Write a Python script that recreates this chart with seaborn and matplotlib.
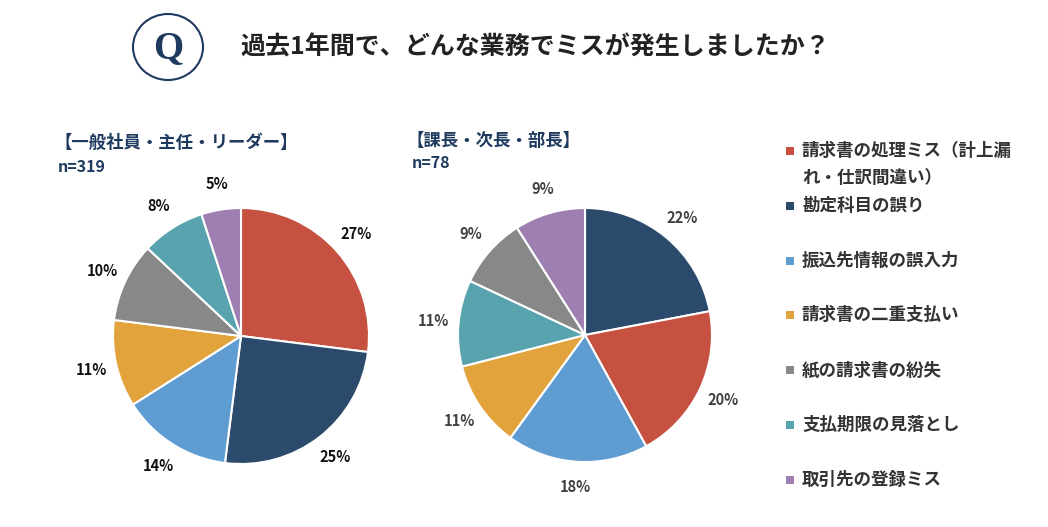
import matplotlib
matplotlib.use('Agg')
import matplotlib.pyplot as plt
from matplotlib.patches import Ellipse, Rectangle
import seaborn as sns

# Data
categories = ['請求書の処理ミス（計上漏\nれ・仕訳間違い）', '勘定科目の誤り', '振込先情報の誤入力',
              '請求書の二重支払い', '紙の請求書の紛失', '支払期限の見落とし', '取引先の登録ミス']
colors = ['#C65140', '#2C4A6C', '#5F9CD2', '#E2A33C', '#888888', '#59A3AE', '#9E7FB1']

staff_labels = ['請求書の処理ミス', '勘定科目の誤り', '振込先情報の誤入力', '請求書の二重支払い',
                '紙の請求書の紛失', '支払期限の見落とし', '取引先の登録ミス']
staff_values = [27, 25, 14, 11, 10, 8, 5]

mgr_labels = ['勘定科目の誤り', '請求書の処理ミス', '振込先情報の誤入力', '請求書の二重支払い',
              '支払期限の見落とし', '紙の請求書の紛失', '取引先の登録ミス']
mgr_values = [22, 20, 18, 11, 11, 9, 9]

sns.set_theme(style='white')
plt.rcParams['font.family'] = ['Noto Sans CJK JP', 'DejaVu Sans']

W, H = 1048, 527
fig = plt.figure(figsize=(W / 100, H / 100), dpi=100)
fig.patch.set_facecolor('white')

palette = dict(zip(staff_labels, sns.color_palette(colors)))
navy = '#1F3A5F'


def fx(px):
    return px / W


def fy(py):
    return 1 - py / H


def draw_pie(cx, cy, r, labels, values, text_color):
    ax = fig.add_axes([fx(cx - r), fy(cy + r), 2 * r / W, 2 * r / H])
    wedges, texts = ax.pie(values, colors=[palette[l] for l in labels], startangle=90,
                           counterclock=False, labels=[f'{v}%' for v in values],
                           labeldistance=1.2,
                           wedgeprops=dict(edgecolor='white', linewidth=1.5),
                           textprops=dict(fontsize=10.5, fontweight='bold', color=text_color))
    for t in texts:
        t.set_ha('center')
        t.set_va('center')
    ax.set_xlim(-1, 1)
    ax.set_ylim(-1, 1)
    ax.set_aspect('equal')
    ax.axis('off')
    return ax


draw_pie(241, 336, 128, staff_labels, staff_values, '#111111')
draw_pie(585, 335, 127, mgr_labels, mgr_values, '#404040')

# Header
fig.add_artist(Ellipse((fx(168), fy(47)), 70 / W, 66 / H, transform=fig.transFigure,
                       fill=False, edgecolor=navy, linewidth=1.5))
fig.text(fx(168), fy(49), 'Q', ha='center', va='center', fontsize=28, fontweight='bold',
         color=navy, family='Liberation Serif')
fig.text(fx(240), fy(47), '過去1年間で、どんな業務でミスが発生しましたか？', ha='left', va='center',
         fontsize=18, fontweight='bold', color='#222222')

# Subtitles
fig.text(fx(54), fy(143), '【一般社員・主任・リーダー】', ha='left', va='center',
         fontsize=12.5, fontweight='bold', color=navy)
fig.text(fx(58), fy(167), 'n=319', ha='left', va='center', fontsize=11.5, fontweight='bold', color=navy)
fig.text(fx(406), fy(141), '【課長・次長・部長】', ha='left', va='center',
         fontsize=12.5, fontweight='bold', color=navy)
fig.text(fx(412), fy(163), 'n=78', ha='left', va='center', fontsize=11.5, fontweight='bold', color=navy)

# Legend
for i, (cat, col) in enumerate(zip(categories, colors)):
    y = 151 + 54.8 * i
    fig.add_artist(Rectangle((fx(786), fy(y + 4)), 8 / W, 8 / H, transform=fig.transFigure,
                             facecolor=col, edgecolor='none'))
    for j, line in enumerate(cat.split('\n')):
        fig.text(fx(802), fy(y + 27 * j), line, ha='left', va='center',
                 fontsize=12.6, fontweight='bold', color='#333333')

fig.savefig('out.png', dpi=100, facecolor='white')
